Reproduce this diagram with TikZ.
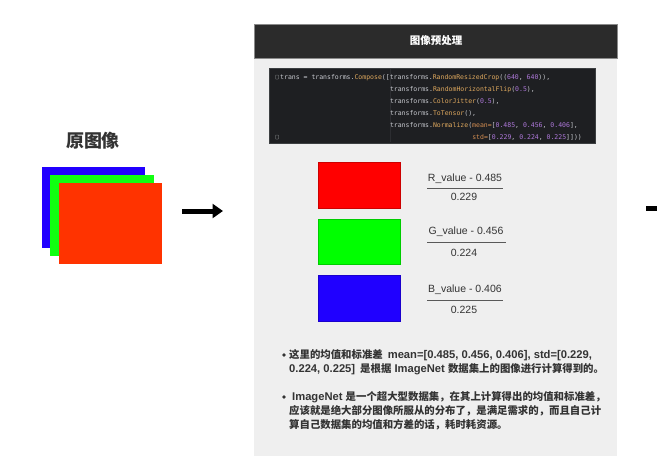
\documentclass[tikz,border=0pt]{standalone}
\usepackage{fontspec}
\setmainfont{Liberation Sans}
\newfontfamily\cjk{Noto Sans CJK SC}
\newfontfamily\codefont{DejaVu Sans Mono}
\usetikzlibrary{arrows.meta}
\definecolor{panelbg}{HTML}{EFEFEF}
\definecolor{headbg}{HTML}{2B2B2B}
\definecolor{headborder}{HTML}{8A8A8A}
\definecolor{codebg}{HTML}{1E1F22}
\definecolor{codeborder}{HTML}{3C3F41}
\definecolor{codeguide}{HTML}{2C2D31}
\definecolor{codefg}{HTML}{C8CAD0}
\definecolor{codefn}{HTML}{DEA85E}
\definecolor{codenum}{HTML}{AE78DA}
\definecolor{codekw}{HTML}{D58E52}
\definecolor{txt}{HTML}{333333}
\definecolor{imgblue}{HTML}{2200FF}
\definecolor{imggreen}{HTML}{11FF11}
\definecolor{imgred}{HTML}{FF3300}
\definecolor{chred}{HTML}{FF0000}
\definecolor{chgreen}{HTML}{00FF00}
\definecolor{chblue}{HTML}{2000FF}
\newcommand\fnc[1]{\textcolor{codefn}{#1}}
\newcommand\nmc[1]{\textcolor{codenum}{#1}}
\newcommand\kwc[1]{\textcolor{codekw}{#1}}
\newcommand\zh[1]{{\cjk\fontsize{10.4}{13}\selectfont #1}}
\begin{document}
\begin{tikzpicture}[x=1pt,y=-1pt,
  plainbox/.style={anchor=north west, inner sep=0pt, outer sep=0pt},
  codeline/.style={anchor=west, inner sep=0pt, text=codefg, font=\codefont\fontsize{6.5}{8}\selectfont},
  fracnum/.style={inner sep=0pt, text=txt, font=\fontsize{10.5}{12}\selectfont},
  fracline/.style={draw=black!65, line width=0.9pt},
  bullettext/.style={anchor=west, inner sep=0pt, text=txt, text height=8pt, text depth=2pt, font=\bfseries\fontsize{11.2}{13}\selectfont},
  bulletdot/.style={circle, fill=txt, inner sep=0pt, minimum size=3.6pt},
  bigarrow/.style={line width=5pt, -{Triangle[length=10.5pt,width=14pt]}}
]
\useasboundingbox (0,0) rectangle (657,469);
\fill[white] (0,0) rectangle (657,469);

% left: original image
\node[text=txt, font=\cjk\bfseries\fontsize{18}{20}\selectfont] (title) at (93,141) {原图像};
\node[plainbox, fill=imgblue, minimum width=103pt, minimum height=81pt] (imgb) at (42,167) {};
\node[plainbox, fill=imggreen, minimum width=104pt, minimum height=81pt] (imgg) at (50,175) {};
\node[plainbox, fill=imgred, minimum width=103pt, minimum height=81pt] (imgr) at (59,183) {};

\coordinate (a1) at (182,211);
\coordinate (a2) at (223,211);
\draw[bigarrow] (a1) -- (a2);

\coordinate (b1) at (646,208.5);
\coordinate (b2) at (657,208.5);
\draw[line width=5pt] (b1) -- (b2);

% panel
\node[plainbox, fill=panelbg, minimum width=363pt, minimum height=398pt] (panel) at (254,58) {};
\node[plainbox, fill=headbg, draw=headborder, line width=0.8pt, minimum width=363pt, minimum height=34pt] (head) at (254,24) {};
\node[text=white, font=\cjk\bfseries\fontsize{10.5}{12}\selectfont] (headtext) at (436,41) {图像预处理};

% code box
\node[plainbox, fill=codebg, draw=codeborder, line width=0.8pt, minimum width=326pt, minimum height=75pt] (code) at (269,68) {};
\draw[codeguide, line width=0.8pt] (390,69) -- (390,142);
\draw[codeborder!80!white, line width=0.5pt, rounded corners=0.5pt] (275.5,75) rectangle (278.5,79);
\draw[codeborder!80!white, line width=0.5pt, rounded corners=0.5pt] (275.5,135) rectangle (278.5,139);

\node[codeline] (c1) at (280,77.5) {trans = transforms.\fnc{Compose}([transforms.\fnc{RandomResizedCrop}((\nmc{640}, \nmc{640})),};
\node[codeline] (c2) at (389.8,89.4) {transforms.\fnc{RandomHorizontalFlip}(\nmc{0.5}),};
\node[codeline] (c3) at (389.8,101.3) {transforms.\fnc{ColorJitter}(\nmc{0.5}),};
\node[codeline] (c4) at (389.8,113.2) {transforms.\fnc{ToTensor}(),};
\node[codeline] (c5) at (389.8,125.1) {transforms.\fnc{Normalize}(\kwc{mean=}[\nmc{0.485}, \nmc{0.456}, \nmc{0.406}],};
\node[codeline] (c6) at (472.1,137) {\kwc{std=}[\nmc{0.229}, \nmc{0.224}, \nmc{0.225}]]))};

% channels
\node[plainbox, fill=chred, draw=chred!80!black, line width=0.6pt, minimum width=82pt, minimum height=46pt] (chr) at (318,162) {};
\node[plainbox, fill=chgreen, draw=chgreen!80!black, line width=0.6pt, minimum width=82pt, minimum height=45pt] (chg) at (318,219) {};
\node[plainbox, fill=chblue, draw=chblue!80!black, line width=0.6pt, minimum width=82pt, minimum height=46pt] (chb) at (318,275) {};

\node[fracnum] (rn) at (465,179) {R\_value - 0.485};
\coordinate (rl1) at (427,188); \coordinate (rl2) at (503,188);
\draw[fracline] (rl1) -- (rl2);
\node[fracnum] (rd) at (464,197) {0.229};

\node[fracnum] (gn) at (466,232) {G\_value - 0.456};
\coordinate (gl1) at (427,242); \coordinate (gl2) at (506,242);
\draw[fracline] (gl1) -- (gl2);
\node[fracnum] (gd) at (464,253) {0.224};

\node[fracnum] (bn) at (465,290) {B\_value - 0.406};
\coordinate (bl1) at (427,300); \coordinate (bl2) at (503,300);
\draw[fracline] (bl1) -- (bl2);
\node[fracnum] (bd) at (464,310) {0.225};

% bullets
\node[bulletdot] (dot1) at (284,355) {};
\node[bullettext] (t11) at (289,355) {\zh{这里的均值和标准差}\hspace{5pt}mean=[0.485, 0.456, 0.406], std=[0.229,};
\node[bullettext] (t12) at (289,369) {0.224, 0.225]\hspace{5pt}\zh{是根据} ImageNet \zh{数据集上的图像进行计算得到的。}};
\node[bulletdot] (dot2) at (284,397) {};
\node[bullettext] (t21) at (292,397) {ImageNet \zh{是一个超大型数据集，在其上计算得出的均值和标准差，}};
\node[bullettext] (t22) at (289,411) {\zh{应该就是绝大部分图像所服从的分布了，是满足需求的，而且自己计}};
\node[bullettext] (t23) at (289,425) {\zh{算自己数据集的均值和方差的话，耗时耗资源。}};
\end{tikzpicture}
\end{document}
